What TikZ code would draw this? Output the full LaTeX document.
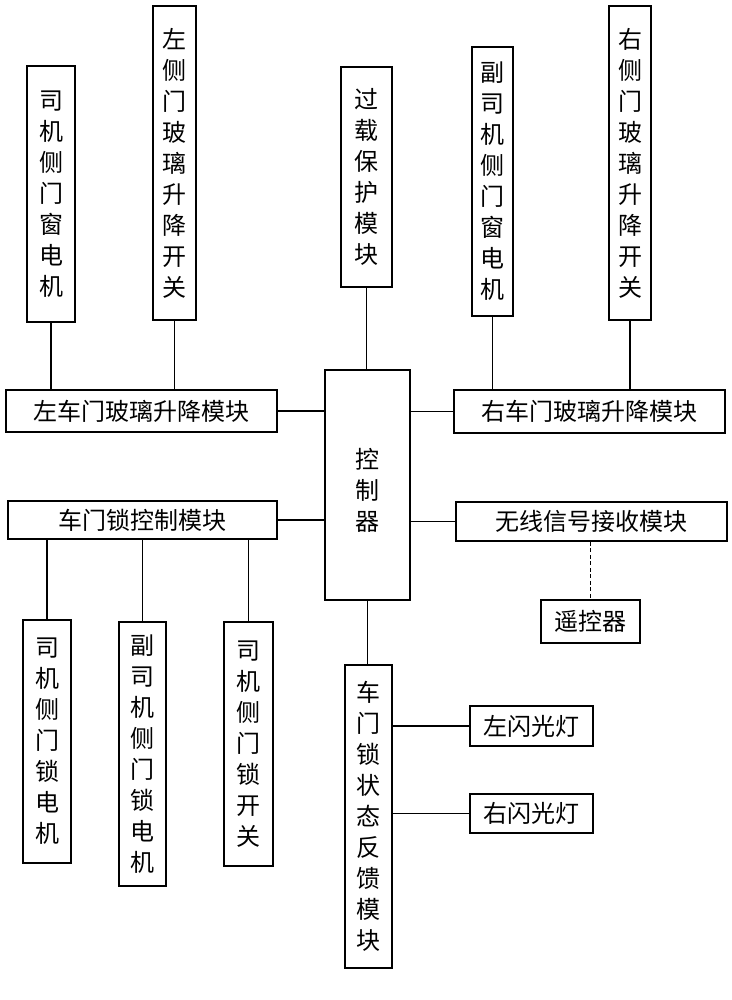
\documentclass[tikz,border=0pt]{standalone}
\usepackage{fontspec}
\newfontfamily\cjk{Noto Sans CJK SC}
\usetikzlibrary{positioning}

\begin{document}
\begin{tikzpicture}[x=1pt,y=-1pt,
	box/.style={draw,line width=1.8pt,rectangle,inner sep=0pt,align=center,
		font=\cjk\fontsize{24}{31}\selectfont},
	wire/.style={line width=1.8pt},
	radio/.style={line width=1.5pt,dash pattern={on 4pt off 2.5pt}}]
	\useasboundingbox (0,0) rectangle (731,1000);
	
	%top row
	\node[box,minimum width=48,minimum height=256] (drvwin) at (51,194) {司\\机\\侧\\门\\窗\\电\\机};
	\node[box,minimum width=43,minimum height=314] (lswitch) at (174.5,163) {左\\侧\\门\\玻\\璃\\升\\降\\开\\关};
	\node[box,minimum width=51,minimum height=220] (overload) at (366.5,177) {过\\载\\保\\护\\模\\块};
	\node[box,minimum width=41,minimum height=269] (codrvwin) at (492.5,181.5) {副\\司\\机\\侧\\门\\窗\\电\\机};
	\node[box,minimum width=42,minimum height=314] (rswitch) at (630,163) {右\\侧\\门\\玻\\璃\\升\\降\\开\\关};
	
	%window modules and controller
	\node[box,minimum width=271,minimum height=42] (lwin) at (141.5,411) {左车门玻璃升降模块};
	\node[box,minimum width=271,minimum height=43] (rwin) at (589.5,411.5) {右车门玻璃升降模块};
	\node[box,minimum width=85,minimum height=230] (ctrl) at (367.5,485) {\\控\\制\\器};
	\node[box,minimum width=269,minimum height=38] (lockctrl) at (142.5,520) {车门锁控制模块};
	\node[box,minimum width=271,minimum height=39] (wireless) at (591.5,521.5) {无线信号接收模块};
	\node[box,minimum width=99,minimum height=43] (remote) at (590.5,621.5) {遥控器};
	
	%door locks
	\node[box,minimum width=48,minimum height=243] (drvlock) at (47,741.5) {司\\机\\侧\\门\\锁\\电\\机};
	\node[box,minimum width=47,minimum height=264] (codrvlock) at (142.5,754) {副\\司\\机\\侧\\门\\锁\\电\\机};
	\node[box,minimum width=49,minimum height=244] (lockswitch) at (248.5,744) {司\\机\\侧\\门\\锁\\开\\关};
	
	%feedback and flash lamps
	\node[box,minimum width=47,minimum height=303] (feedback) at (368.5,816.5) {车\\门\\锁\\状\\态\\反\\馈\\模\\块};
	\node[box,minimum width=123,minimum height=40] (lflash) at (531.5,726) {左闪光灯};
	\node[box,minimum width=123,minimum height=39] (rflash) at (531.5,813.5) {右闪光灯};
	
	\draw[wire] (drvwin.south) -- (drvwin.south |- lwin.north);
	\draw[wire] (lswitch.south) -- (lswitch.south |- lwin.north);
	\draw[wire] (codrvwin.south) -- (codrvwin.south |- rwin.north);
	\draw[wire] (rswitch.south) -- (rswitch.south |- rwin.north);
	\draw[wire] (overload.south) -- (overload.south |- ctrl.north);
	
	\draw[wire] (lwin.east) -- (lwin.east -| ctrl.west);
	\draw[wire] (ctrl.east |- rwin.west) -- (rwin.west);
	\draw[wire] (lockctrl.east) -- (lockctrl.east -| ctrl.west);
	\draw[wire] (ctrl.east |- wireless.west) -- (wireless.west);
	\draw[radio] (wireless.south -| remote.north) -- (remote.north);
	
	\draw[wire] (drvlock.north |- lockctrl.south) -- (drvlock.north);
	\draw[wire] (codrvlock.north |- lockctrl.south) -- (codrvlock.north);
	\draw[wire] (lockswitch.north |- lockctrl.south) -- (lockswitch.north);
	
	\draw[wire] (ctrl.south) -- (ctrl.south |- feedback.north);
	\draw[wire] (lflash.west -| feedback.east) -- (lflash.west);
	\draw[wire] (rflash.west -| feedback.east) -- (rflash.west);
\end{tikzpicture}
\end{document}
